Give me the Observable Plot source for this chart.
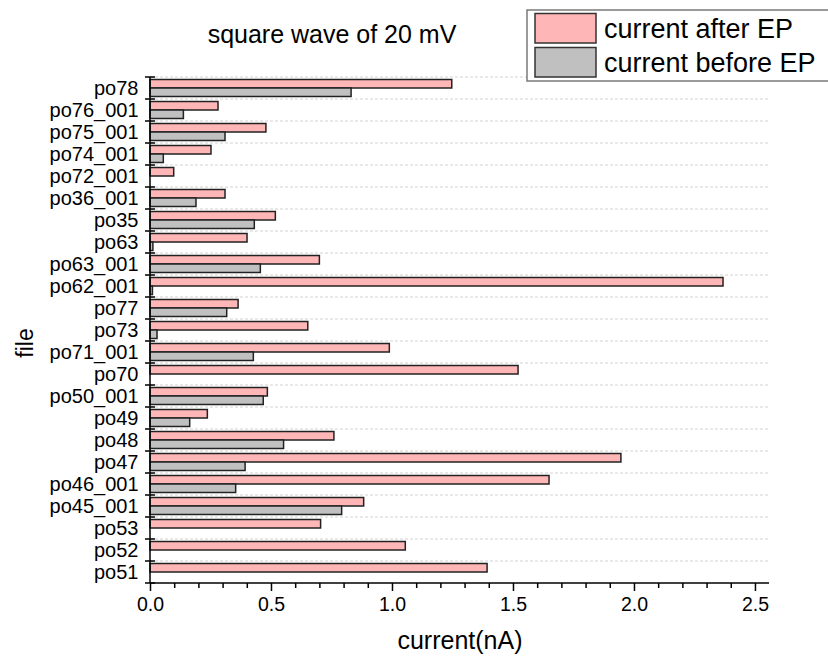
<!DOCTYPE html>
<html><head><meta charset="utf-8">
<script src="https://cdn.jsdelivr.net/npm/d3@7"></script>
<script src="https://cdn.jsdelivr.net/npm/@observablehq/plot@0.6"></script>
<style>
body{margin:0;background:#fff;overflow:hidden}
#wrap{position:relative;width:828px;height:662px;overflow:hidden}
</style></head><body><div id="wrap"></div>
<script>
const files = ["po78","po76_001","po75_001","po74_001","po72_001","po36_001","po35","po63","po63_001","po62_001","po77","po73","po71_001","po70","po50_001","po49","po48","po47","po46_001","po45_001","po53","po52","po51"];
const afterEP  = [1.247,0.281,0.479,0.252,0.098,0.310,0.518,0.401,0.700,2.368,0.364,0.652,0.989,1.521,0.485,0.237,0.760,1.946,1.649,0.883,0.705,1.055,1.393];
const beforeEP = [0.831,0.138,0.310,0.055,null,0.190,0.431,0.012,0.456,0.010,0.317,0.029,0.427,null,0.468,0.164,0.552,0.393,0.354,0.792,null,null,null];
const seriesNames = ["current after EP","current before EP"];
const seriesColors = ["#ffb6b6","#c0c0c0"];
const xMajorTicks = [0,0.5,1.0,1.5,2.0,2.5];
const xMinorTicks = [0.1,0.2,0.3,0.4,0.6,0.7,0.8,0.9,1.1,1.2,1.3,1.4,1.6,1.7,1.8,1.9,2.1,2.2,2.3,2.4];
const xMax = 2.558;
const titleText = "square wave of 20 mV";
const xLabel = "current(nA)";
const yLabel = "file";

const afterRows = files.map((f,i)=>({file:f, series:seriesNames[0], value:afterEP[i]})).filter(d=>d.value!=null);
const beforeRows = files.map((f,i)=>({file:f, series:seriesNames[1], value:beforeEP[i]})).filter(d=>d.value!=null);

function bandEdges(y) {
  const bw = y.bandwidth ? y.bandwidth() : (y(files[1]) - y(files[0]));
  const edges = files.map(f => y(f));
  return {edges, bottom: y(files[files.length-1]) + bw};
}
function frameDecor(index, scales) {
  const {x, y} = scales;
  const {edges} = bandEdges(y);
  const x0 = x(0), x1 = x(xMax);
  const g = d3.create("svg:g");
  g.selectAll("line").data(edges).join("line")
    .attr("x1", x0).attr("x2", x1).attr("y1", d=>d).attr("y2", d=>d)
    .attr("stroke", "#d2d2d2").attr("stroke-width", 1).attr("stroke-dasharray", "3,2");
  return g.node();
}
function axisLines(index, scales) {
  const {x, y} = scales;
  const {edges, bottom} = bandEdges(y);
  const all = edges.concat([bottom]);
  const x0 = x(0), x1 = x(xMax);
  const g = d3.create("svg:g").attr("stroke", "#000").attr("stroke-width", 1.5);
  g.append("line").attr("x1", x0).attr("x2", x0).attr("y1", edges[0]).attr("y2", bottom);
  g.append("line").attr("x1", x0).attr("x2", x1).attr("y1", bottom).attr("y2", bottom);
  g.append("g").selectAll("line").data(all).join("line")
    .attr("x1", x0 - 5).attr("x2", x0 + 5).attr("y1", d=>d).attr("y2", d=>d);
  return g.node();
}

const plot = Plot.plot({
  width: 828, height: 662,
  marginLeft: 150, marginRight: 59, marginTop: 77, marginBottom: 79,
  style: {fontFamily: "'Liberation Sans', Arial, sans-serif", color: "#000", background: "#fff"},
  x: {domain: [0, xMax]},
  y: {domain: files, padding: 0},
  color: {domain: seriesNames, range: seriesColors},
  marks: [
    frameDecor,
    Plot.barX(afterRows, {x: "value", y: "file", fill: "series", stroke: "#222", strokeWidth: 1.5, insetTop: 2.5, insetBottom: 11}),
    Plot.barX(beforeRows, {x: "value", y: "file", fill: "series", stroke: "#222", strokeWidth: 1.5, insetTop: 11, insetBottom: 2.5}),
    Plot.axisX({ticks: xMinorTicks, tickSize: 5, strokeWidth: 1.5, tickFormat: () => "", label: null}),
    Plot.axisX({ticks: xMajorTicks, tickSize: 8, tickPadding: 6, strokeWidth: 1.5, tickFormat: d3.format(".1f"), fontSize: 19.5, label: null}),
    Plot.axisY({tickSize: 0, tickPadding: 12, fontSize: 20, label: null}),
    axisLines
  ]
});

const wrap = document.getElementById("wrap");
wrap.appendChild(plot);
const svg = d3.select(plot);
const ff = "'Liberation Sans', Arial, sans-serif";
svg.append("text").attr("x", 332).attr("y", 43).attr("text-anchor", "middle")
  .attr("font-family", ff).attr("font-size", 25).attr("fill", "#000").text(titleText);
svg.append("text").attr("x", 460).attr("y", 649).attr("text-anchor", "middle")
  .attr("font-family", ff).attr("font-size", 25).attr("fill", "#000").text(xLabel);
svg.append("text").attr("transform", "translate(33,343) rotate(-90)").attr("text-anchor", "middle")
  .attr("font-family", ff).attr("font-size", 23).attr("fill", "#000").text(yLabel);

// legend
const color = plot.scale("color");
const lg = svg.append("g");
lg.append("rect").attr("x", 527).attr("y", 10).attr("width", 330).attr("height", 71)
  .attr("fill", "#fff").attr("stroke", "#7a7a7a").attr("stroke-width", 1.5);
color.domain.forEach((name, i) => {
  lg.append("rect").attr("x", 535).attr("y", 13.5 + i*34).attr("width", 61).attr("height", 29.5)
    .attr("fill", color.range[i]).attr("stroke", "#333").attr("stroke-width", 1.5);
  lg.append("text").attr("x", 604).attr("y", 37.5 + i*34).attr("text-anchor", "start")
    .attr("font-family", ff).attr("font-size", 27).attr("fill", "#000").text(name);
});
</script></body></html>
